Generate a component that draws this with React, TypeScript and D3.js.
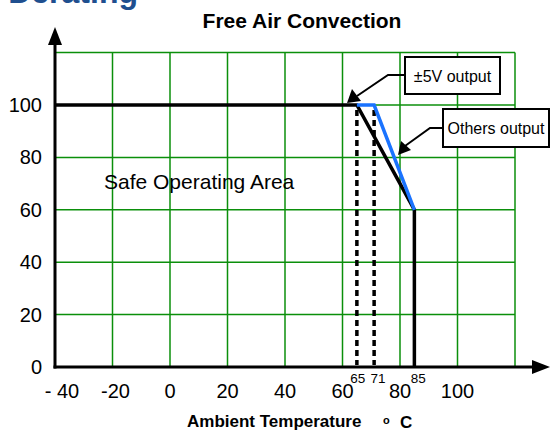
import React from 'react';
import * as d3 from 'd3';

// derating curve data (ambient temp in C, load in %)
const othersTemp = [-40, 65, 85, 85];
const othersLoad = [100, 100, 60, 0];
const v5Temp = [65, 71, 85];
const v5Load = [100, 100, 60];
const dottedTemps = [65, 71];
const markerTemps = [65, 71, 85];
const xTicks = [-40, -20, 0, 20, 40, 60, 80, 100];
const xTickLabels = ['- 40', '-20', '0', '20', '40', '60', '80', '100'];
const yTicks = [0, 20, 40, 60, 80, 100];
const xGrid = [-40, -20, 0, 20, 40, 60, 80, 100, 120];
const yGrid = [0, 20, 40, 60, 80, 100, 120];

const FONT = '"Liberation Sans", Arial, sans-serif';
const GREEN = '#0b8f0b';

const App = () => {
  const width = 550, height = 432;
  const x = d3.scaleLinear().domain([-40, 120]).range([55, 515]);
  const y = d3.scaleLinear().domain([0, 120]).range([367, 52.6]);

  const line = d3.line<[number, number]>()
    .x(d => x(d[0]))
    .y(d => y(d[1]));

  const blackPts = othersTemp.map((t, i) => [t, othersLoad[i]] as [number, number]);
  const bluePts = v5Temp.map((t, i) => [t, v5Load[i]] as [number, number]);

  const x0 = x(-40), y0 = y(0);

  return (
    <svg width={width} height={height}
      style={{ position: 'absolute', left: 0, top: 0, background: '#fff' }}
      fontFamily={FONT}>
      {/* cut-off page header, only its bottom shows */}
      <text x={138} y={3} textAnchor="end" fontSize={32} fontWeight="bold" fill="#1f4f8f">Derating</text>

      <text x={302} y={28} textAnchor="middle" fontSize={21} fontWeight="bold">Free Air Convection</text>

      {/* grid */}
      {xGrid.map(v => (
        <line key={'gx' + v} x1={x(v)} x2={x(v)} y1={y(120)} y2={y0} stroke={GREEN} strokeWidth={1.5} />
      ))}
      {yGrid.map(v => (
        <line key={'gy' + v} x1={x0} x2={x(120)} y1={y(v)} y2={y(v)} stroke={GREEN} strokeWidth={1.5} />
      ))}

      {/* axes with arrows */}
      <line x1={x0} x2={x0} y1={y0 + 1.5} y2={44} stroke="#000" strokeWidth={3} />
      <path d={`M${x0},27 L${x0 - 7},45 L${x0 + 7},45 Z`} fill="#000" />
      <line x1={x0 - 1.5} x2={534} y1={y0} y2={y0} stroke="#000" strokeWidth={3} />
      <path d={`M550,${y0} L532,${y0 - 7} L532,${y0 + 7} Z`} fill="#000" />

      {/* y tick labels */}
      {yTicks.map(v => (
        <text key={'yt' + v} x={42} y={y(v)} dy="0.35em" textAnchor="end" fontSize={20}>{v}</text>
      ))}
      {/* x tick labels */}
      {xTicks.map((v, i) => (
        <text key={'xt' + v} x={x(v) + (v < 0 ? (v === -40 ? 7 : 3) : 0)} y={398} textAnchor="middle" fontSize={20}>{xTickLabels[i]}</text>
      ))}
      {markerTemps.map(v => (
        <text key={'mt' + v} x={x(v) + (v === 65 ? 1 : 4)} y={383} textAnchor="middle" fontSize={13.5}>{v}</text>
      ))}

      <text x={104} y={189} fontSize={21}>Safe Operating Area</text>

      {/* dotted drops */}
      {dottedTemps.map(v => (
        <line key={'d' + v} x1={x(v)} x2={x(v)} y1={y(100) + 5} y2={y0 - 2}
          stroke="#000" strokeWidth={3.5} strokeDasharray="6 4" />
      ))}

      {/* curves */}
      <path d={line(blackPts) || ''} fill="none" stroke="#000" strokeWidth={3.5} strokeLinejoin="miter" />
      <path d={line(bluePts) || ''} fill="none" stroke="#1a73ff" strokeWidth={3.5} strokeLinejoin="miter" />

      {/* annotation: +-5V output */}
      <rect x={405} y={57} width={95} height={37} fill="#fff" stroke="#000" strokeWidth={2} />
      <text x={452.5} y={82} textAnchor="middle" fontSize={16}>±5V output</text>
      <polyline points="405,75 388,75 357,96" fill="none" stroke="#000" strokeWidth={2} />
      <path d="M347,103 L352,89 L361,101 Z" fill="#000" />

      {/* annotation: others output */}
      <rect x={443} y={109} width={106} height={38} fill="#fff" stroke="#000" strokeWidth={2} />
      <text x={496} y={134} textAnchor="middle" fontSize={16}>Others output</text>
      <polyline points="443,128 430,128 405,146" fill="none" stroke="#000" strokeWidth={2} />
      <path d="M398,155 L401,141 L411,150 Z" fill="#000" />

      {/* x axis title */}
      <text x={187} y={427} fontSize={17} fontWeight="bold">Ambient Temperature</text>
      <text x={383} y={424} fontSize={11} fontWeight="bold">o</text>
      <text x={400} y={428} fontSize={17} fontWeight="bold">C</text>
    </svg>
  );
};

export default App;
